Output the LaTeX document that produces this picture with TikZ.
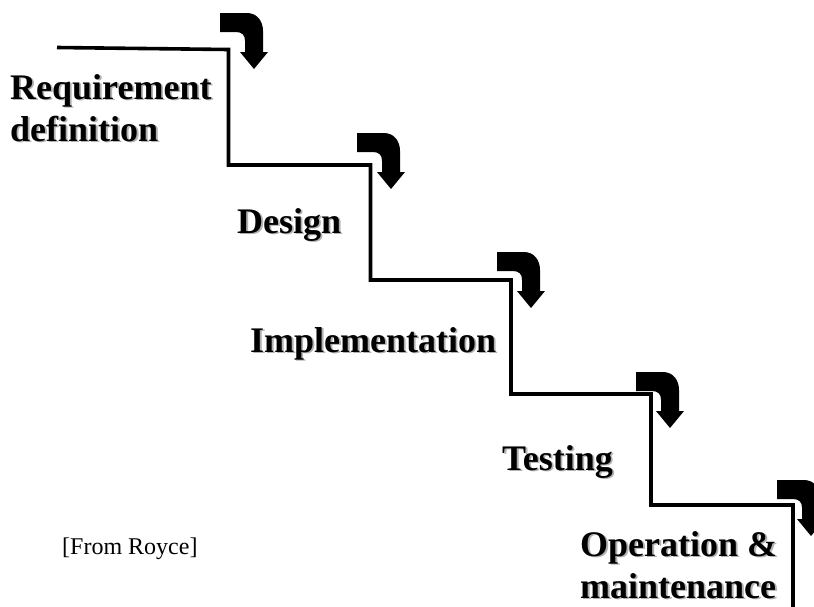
\documentclass[tikz,border=0pt]{standalone}
\usepackage{fontspec}
\setmainfont{Liberation Serif}
\usepackage{xcolor}

% black text with a soft grey drop shadow below and to the right
\newcommand\dropshadow[1]{\leavevmode\rlap{\kern1.8pt\raisebox{-1.8pt}{\textcolor{black!30}{#1}}}#1}

\tikzset{
  stair/.style={line width=3.6pt, line join=miter, line cap=butt},
  phase/.style={anchor=base west, inner sep=0pt, font=\bfseries\fontsize{36}{42}\selectfont},
  note/.style={anchor=base west, inner sep=0pt, font=\fontsize{24}{28}\selectfont},
  % curved block arrow turning from right to down
  turnarrow/.pic={
    \fill[black] (0,0) -- (27,0) .. controls (37,0) and (43,8) .. (43,18)
      -- (43,39) -- (48,39) -- (34,56) -- (20,39) -- (25,39) -- (25,28)
      .. controls (25,22) and (22,19) .. (16,19) -- (0,19) -- cycle;
  }
}

\begin{document}
\begin{tikzpicture}[x=1pt, y=-1pt]
  \useasboundingbox (0,0) rectangle (814,606);

  % corners of the staircase
  \coordinate (s0) at (57,47.5);
  \coordinate (c1) at (228.5,49.5);
  \coordinate (c2) at (228.5,165);
  \coordinate (c3) at (370.5,165);
  \coordinate (c4) at (370.5,280);
  \coordinate (c5) at (511,280);
  \coordinate (c6) at (511,394);
  \coordinate (c7) at (651,394);
  \coordinate (c8) at (651,505);
  \coordinate (c9) at (793,505);
  \coordinate (s1) at (793,610);

  \draw[stair] (s0) -- (c1) -- (c2) -- (c3) -- (c4) -- (c5) -- (c6) -- (c7) -- (c8) -- (c9) -- (s1);

  % flow arrows at each step
  \pic at (220,13)  {turnarrow};
  \pic at (357,133) {turnarrow};
  \pic at (497,252) {turnarrow};
  \pic at (636,372) {turnarrow};
  \pic at (777,480) {turnarrow};

  % phase labels
  \node[phase] (req1) at (10,99)   {\dropshadow{Requirement}};
  \node[phase] (req2) at (10,141)  {\dropshadow{definition}};
  \node[phase] (des)  at (237,233) {\dropshadow{Design}};
  \node[phase] (imp)  at (250,352) {\dropshadow{Implementation}};
  \node[phase] (tst)  at (502,470) {\dropshadow{Testing}};
  \node[phase] (op1)  at (580,556) {\dropshadow{Operation \&}};
  \node[phase] (op2)  at (580,598) {\dropshadow{maintenance}};

  \node[note] (src) at (62,554) {[From Royce]};
\end{tikzpicture}
\end{document}
